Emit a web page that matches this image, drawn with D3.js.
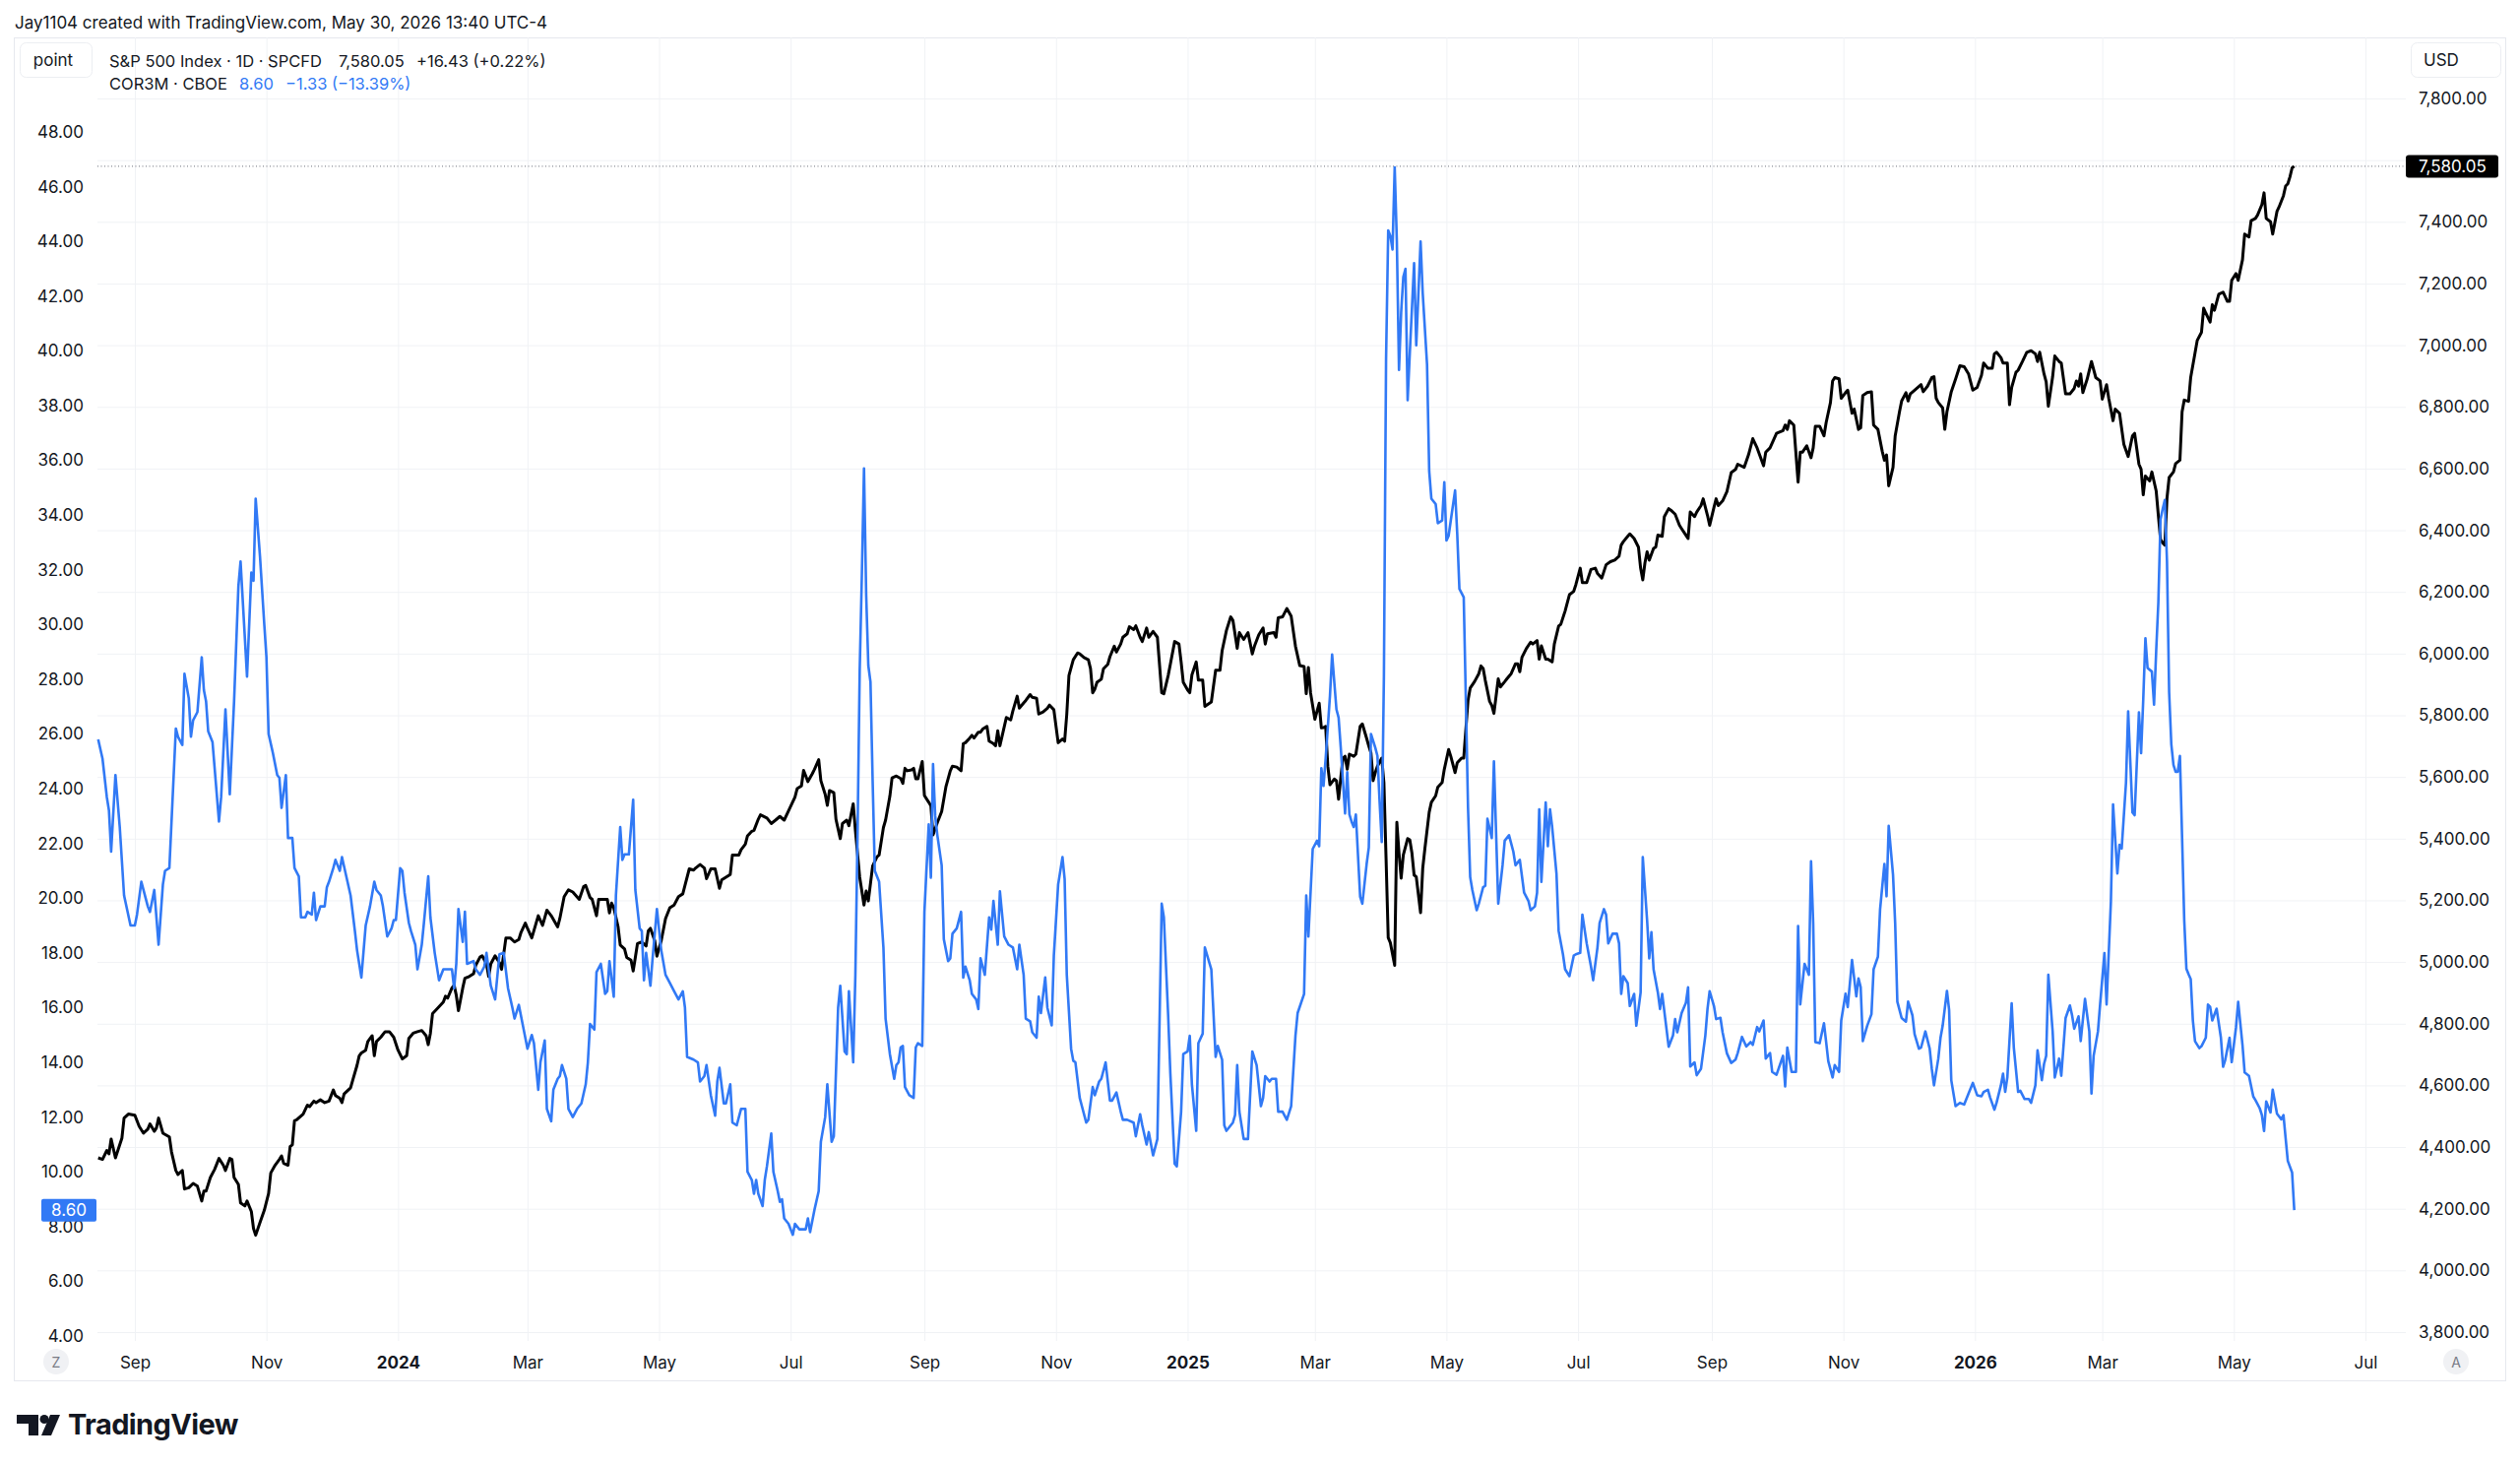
<!DOCTYPE html>
<html>
<head>
<meta charset="utf-8">
<script src="https://cdn.jsdelivr.net/npm/d3@7"></script>
<style>
  body { margin: 0; background: #fff; }
  svg text { font-family: Inter, "Noto Sans", sans-serif; fill: #131722; }
</style>
</head>
<body>
<div id="chart"></div>
<script>
// COR3M (left scale, points)
var cor3m = [
["2023-08-15",25.8],["2023-08-17",25.1],["2023-08-19",23.7],["2023-08-20",23.2],["2023-08-21",21.7],["2023-08-23",24.5],["2023-08-25",22.6],["2023-08-27",20.1],["2023-08-30",19.0],["2023-09-01",19.0],["2023-09-02",19.4],["2023-09-04",20.6],["2023-09-05",20.3],["2023-09-07",19.7],["2023-09-08",19.5],["2023-09-10",20.3],["2023-09-12",18.3],["2023-09-14",20.5],["2023-09-15",21.0],["2023-09-17",21.1],["2023-09-20",26.2],["2023-09-21",25.9],["2023-09-23",25.6],["2023-09-24",28.2],["2023-09-26",27.3],["2023-09-27",25.9],["2023-09-28",26.5],["2023-09-30",26.8],["2023-10-02",28.8],["2023-10-03",27.6],["2023-10-04",27.2],["2023-10-05",26.1],["2023-10-07",25.7],["2023-10-10",22.8],["2023-10-11",23.7],["2023-10-13",26.9],["2023-10-15",23.8],["2023-10-17",27.2],["2023-10-19",31.4],["2023-10-20",32.3],["2023-10-23",28.1],["2023-10-25",31.9],["2023-10-26",31.6],["2023-10-27",34.6],["2023-10-29",32.5],["2023-10-31",30.0],["2023-11-01",28.8],["2023-11-02",26.0],["2023-11-04",25.3],["2023-11-06",24.5],["2023-11-07",24.4],["2023-11-08",23.3],["2023-11-10",24.5],["2023-11-11",22.2],["2023-11-13",22.2],["2023-11-14",21.1],["2023-11-16",20.8],["2023-11-17",19.3],["2023-11-19",19.3],["2023-11-20",19.5],["2023-11-22",19.4],["2023-11-23",20.2],["2023-11-24",19.2],["2023-11-26",19.7],["2023-11-28",19.7],["2023-11-29",20.4],["2023-11-30",20.6],["2023-12-02",21.1],["2023-12-03",21.4],["2023-12-05",21.0],["2023-12-06",21.5],["2023-12-08",20.8],["2023-12-10",20.1],["2023-12-12",18.8],["2023-12-13",18.1],["2023-12-15",17.1],["2023-12-17",19.0],["2023-12-19",19.7],["2023-12-21",20.6],["2023-12-22",20.3],["2023-12-24",20.1],["2023-12-25",19.7],["2023-12-27",18.6],["2023-12-29",18.9],["2023-12-30",19.2],["2023-12-31",19.2],
["2024-01-02",21.1],["2024-01-03",21.0],["2024-01-04",20.2],["2024-01-06",19.1],["2024-01-07",18.8],["2024-01-09",18.3],["2024-01-10",17.4],["2024-01-12",18.3],["2024-01-13",19.1],["2024-01-15",20.8],["2024-01-16",19.3],["2024-01-18",18.0],["2024-01-20",17.0],["2024-01-22",17.4],["2024-01-26",17.4],["2024-01-27",16.7],["2024-01-28",17.6],["2024-01-29",19.6],["2024-01-31",18.4],["2024-02-01",19.5],["2024-02-02",17.6],["2024-02-05",17.7],["2024-02-06",17.4],["2024-02-08",17.2],["2024-02-10",17.5],["2024-02-11",18.0],["2024-02-13",16.8],["2024-02-15",16.3],["2024-02-17",17.95],["2024-02-19",18.0],["2024-02-21",16.7],["2024-02-23",16.0],["2024-02-24",15.6],["2024-02-26",16.1],["2024-02-28",15.3],["2024-03-01",14.5],["2024-03-03",15.0],["2024-03-04",14.7],["2024-03-06",13.0],["2024-03-07",14.0],["2024-03-09",14.8],["2024-03-10",12.3],["2024-03-12",11.85],["2024-03-13",13.0],["2024-03-15",13.4],["2024-03-16",13.5],["2024-03-17",13.9],["2024-03-19",13.4],["2024-03-20",12.3],["2024-03-22",12.0],["2024-03-24",12.3],["2024-03-26",12.5],["2024-03-28",13.2],["2024-03-29",14.0],["2024-03-30",15.4],["2024-04-01",15.2],["2024-04-02",17.3],["2024-04-04",17.6],["2024-04-06",16.5],["2024-04-07",16.6],["2024-04-08",17.7],["2024-04-10",16.4],["2024-04-11",20.1],["2024-04-13",22.6],["2024-04-14",21.4],["2024-04-15",21.6],["2024-04-17",21.6],["2024-04-19",23.6],["2024-04-20",20.3],["2024-04-22",18.9],["2024-04-23",18.8],["2024-04-24",17.0],["2024-04-25",18.0],["2024-04-27",16.8],["2024-04-28",17.8],["2024-04-30",19.6],["2024-05-02",18.1],["2024-05-04",17.2],["2024-05-06",16.9],["2024-05-08",16.6],["2024-05-10",16.3],["2024-05-12",16.6],["2024-05-13",16.0],["2024-05-14",14.2],["2024-05-17",14.1],["2024-05-19",14.0],["2024-05-20",13.3],["2024-05-22",13.5],["2024-05-23",13.9],["2024-05-25",12.8],["2024-05-27",12.05],["2024-05-28",13.3],["2024-05-29",13.8],["2024-05-31",12.5],["2024-06-01",12.5],["2024-06-03",13.2],["2024-06-04",11.8],["2024-06-06",11.7],["2024-06-08",12.3],["2024-06-10",12.3],["2024-06-11",10.0],["2024-06-13",9.7],["2024-06-14",9.2],["2024-06-15",9.7],["2024-06-16",9.2],["2024-06-18",8.75],["2024-06-19",9.7],["2024-06-20",10.2],["2024-06-22",11.4],["2024-06-23",10.0],["2024-06-25",9.3],["2024-06-26",8.9],["2024-06-27",9.0],["2024-06-28",8.3],["2024-06-30",8.1],["2024-07-02",7.7],["2024-07-03",8.1],["2024-07-05",7.9],["2024-07-07",7.9],["2024-07-08",7.9],["2024-07-09",8.3],["2024-07-10",7.8],["2024-07-12",8.6],["2024-07-14",9.3],["2024-07-15",11.1],["2024-07-17",12.0],["2024-07-18",13.2],["2024-07-20",11.1],["2024-07-21",11.3],["2024-07-23",16.0],["2024-07-24",16.8],["2024-07-26",14.4],["2024-07-27",14.3],["2024-07-28",16.6],["2024-07-30",14.0],["2024-07-31",17.2],["2024-08-01",22.3],["2024-08-02",28.3],["2024-08-03",31.8],["2024-08-04",35.7],["2024-08-05",31.1],["2024-08-06",28.5],["2024-08-07",27.9],["2024-08-08",24.3],["2024-08-09",21.0],["2024-08-10",20.8],["2024-08-11",20.6],["2024-08-13",18.2],["2024-08-14",15.6],["2024-08-16",14.3],["2024-08-18",13.4],["2024-08-19",13.9],["2024-08-20",14.0],["2024-08-21",14.55],["2024-08-22",14.6],["2024-08-23",13.1],["2024-08-25",12.8],["2024-08-27",12.7],["2024-08-28",14.55],["2024-08-29",14.7],["2024-08-31",14.6],["2024-09-01",19.5],["2024-09-03",22.7],["2024-09-04",20.75],["2024-09-05",24.9],["2024-09-06",23.0],["2024-09-07",22.3],["2024-09-09",21.2],["2024-09-10",18.5],["2024-09-12",17.7],["2024-09-13",17.8],["2024-09-14",18.7],["2024-09-16",18.9],["2024-09-18",19.5],["2024-09-19",17.1],["2024-09-20",17.5],["2024-09-22",17.0],["2024-09-23",16.5],["2024-09-25",16.3],["2024-09-26",15.95],["2024-09-27",17.8],["2024-09-29",17.2],["2024-10-01",19.3],["2024-10-02",18.85],["2024-10-03",19.9],["2024-10-05",18.3],["2024-10-06",20.25],["2024-10-08",18.6],["2024-10-10",18.3],["2024-10-12",18.2],["2024-10-14",17.4],["2024-10-15",18.3],["2024-10-17",17.2],["2024-10-18",15.6],["2024-10-20",15.5],["2024-10-21",15.1],["2024-10-23",14.9],["2024-10-24",16.4],["2024-10-25",15.8],["2024-10-27",17.1],["2024-10-28",16.0],["2024-10-30",15.35],["2024-10-31",17.9],["2024-11-02",20.5],["2024-11-04",21.5],["2024-11-05",20.7],["2024-11-06",17.2],["2024-11-08",14.5],["2024-11-09",14.06],["2024-11-10",14.0],["2024-11-12",12.7],["2024-11-13",12.4],["2024-11-15",11.8],["2024-11-16",11.9],["2024-11-18",13.1],["2024-11-19",12.8],["2024-11-21",13.3],["2024-11-22",13.4],["2024-11-24",14.0],["2024-11-26",12.6],["2024-11-27",12.6],["2024-11-29",12.9],["2024-12-01",12.2],["2024-12-02",11.9],["2024-12-04",11.9],["2024-12-07",11.8],["2024-12-08",11.3],["2024-12-10",12.1],["2024-12-11",11.7],["2024-12-13",11.0],["2024-12-14",11.45],["2024-12-16",10.6],["2024-12-18",11.2],["2024-12-20",19.8],["2024-12-21",19.3],["2024-12-23",15.7],["2024-12-24",13.6],["2024-12-26",10.3],["2024-12-27",10.2],["2024-12-29",12.2],["2024-12-30",14.3],
["2025-01-01",14.4],["2025-01-02",14.97],["2025-01-03",13.2],["2025-01-05",11.5],["2025-01-06",14.7],["2025-01-08",15.05],["2025-01-09",18.2],["2025-01-12",17.4],["2025-01-14",14.2],["2025-01-15",14.6],["2025-01-17",14.1],["2025-01-18",11.7],["2025-01-19",11.5],["2025-01-22",11.8],["2025-01-23",12.07],["2025-01-24",13.9],["2025-01-25",12.2],["2025-01-27",11.2],["2025-01-29",11.2],["2025-01-31",14.4],["2025-02-02",13.9],["2025-02-04",12.4],["2025-02-05",12.7],["2025-02-06",13.5],["2025-02-08",13.3],["2025-02-09",13.4],["2025-02-11",13.4],["2025-02-12",12.2],["2025-02-14",12.2],["2025-02-16",11.9],["2025-02-18",12.4],["2025-02-20",14.97],["2025-02-21",15.8],["2025-02-24",16.5],["2025-02-25",20.1],["2025-02-26",18.6],["2025-02-28",21.8],["2025-03-02",22.1],["2025-03-03",21.9],["2025-03-04",24.75],["2025-03-05",24.1],["2025-03-06",25.1],["2025-03-08",27.4],["2025-03-09",28.9],["2025-03-11",26.9],["2025-03-12",26.6],["2025-03-13",25.5],["2025-03-14",24.3],["2025-03-15",23.1],["2025-03-16",24.6],["2025-03-17",23.06],["2025-03-18",22.8],["2025-03-19",22.6],["2025-03-20",23.06],["2025-03-22",20.05],["2025-03-23",19.8],["2025-03-25",21.25],["2025-03-26",21.85],["2025-03-27",26.0],["2025-03-29",25.5],["2025-03-30",25.2],["2025-03-31",23.54],["2025-04-01",22.05],["2025-04-02",28.1],["2025-04-03",39.7],["2025-04-04",44.4],["2025-04-05",44.2],["2025-04-06",43.7],["2025-04-07",46.7],["2025-04-08",44.0],["2025-04-09",39.3],["2025-04-10",41.4],["2025-04-11",42.7],["2025-04-12",43.0],["2025-04-13",38.2],["2025-04-14",39.9],["2025-04-16",43.2],["2025-04-17",40.2],["2025-04-19",44.0],["2025-04-20",42.1],["2025-04-22",39.5],["2025-04-23",35.6],["2025-04-24",34.6],["2025-04-26",34.4],["2025-04-27",33.7],["2025-04-29",33.8],["2025-04-30",35.2],["2025-05-01",33.07],["2025-05-02",33.24],["2025-05-03",33.8],["2025-05-05",34.9],["2025-05-06",33.3],["2025-05-07",31.3],["2025-05-09",31.0],["2025-05-10",27.2],["2025-05-11",23.3],["2025-05-12",20.77],["2025-05-13",20.3],["2025-05-15",19.56],["2025-05-16",19.8],["2025-05-18",20.4],["2025-05-19",20.45],["2025-05-20",22.9],["2025-05-22",22.2],["2025-05-23",25.0],["2025-05-25",19.8],["2025-05-27",21.2],["2025-05-28",22.1],["2025-05-30",22.3],["2025-06-01",21.7],["2025-06-02",21.2],["2025-06-04",21.4],["2025-06-06",20.2],["2025-06-08",19.9],["2025-06-09",19.56],["2025-06-11",19.7],["2025-06-12",20.2],["2025-06-13",23.25],["2025-06-14",20.6],["2025-06-16",23.5],["2025-06-17",21.9],["2025-06-18",23.25],["2025-06-19",22.6],["2025-06-21",20.9],["2025-06-22",18.8],["2025-06-24",17.95],["2025-06-25",17.4],["2025-06-27",17.15],["2025-06-29",17.9],["2025-06-30",17.95],["2025-07-02",18.0],["2025-07-03",19.4],["2025-07-05",18.35],["2025-07-07",17.5],["2025-07-08",17.0],["2025-07-10",18.2],["2025-07-11",19.1],["2025-07-13",19.6],["2025-07-14",19.4],["2025-07-15",18.35],["2025-07-17",18.7],["2025-07-19",18.7],["2025-07-20",18.35],["2025-07-21",16.5],["2025-07-22",17.15],["2025-07-24",16.9],["2025-07-25",16.06],["2025-07-27",16.5],["2025-07-28",15.34],["2025-07-30",16.55],["2025-07-31",21.5],["2025-08-02",19.2],["2025-08-03",17.8],["2025-08-04",18.76],["2025-08-05",17.4],["2025-08-07",16.55],["2025-08-08",15.95],["2025-08-09",16.5],["2025-08-11",15.22],["2025-08-12",14.57],["2025-08-14",14.98],["2025-08-15",15.58],["2025-08-16",15.1],["2025-08-18",15.8],["2025-08-20",16.18],["2025-08-21",16.74],["2025-08-22",13.85],["2025-08-24",14.0],["2025-08-25",13.53],["2025-08-27",13.77],["2025-08-29",14.98],["2025-08-30",15.95],["2025-08-31",16.6],["2025-09-02",16.06],["2025-09-03",15.58],["2025-09-05",15.63],["2025-09-06",15.1],["2025-09-08",14.33],["2025-09-10",13.98],["2025-09-12",14.1],["2025-09-13",14.34],["2025-09-15",14.93],["2025-09-17",14.58],["2025-09-19",14.74],["2025-09-20",14.64],["2025-09-22",15.29],["2025-09-23",15.13],["2025-09-25",15.53],["2025-09-26",14.14],["2025-09-28",14.34],["2025-09-29",13.65],["2025-10-01",13.55],["2025-10-04",14.24],["2025-10-05",13.12],["2025-10-06",14.54],["2025-10-08",13.65],["2025-10-10",13.65],["2025-10-11",18.98],["2025-10-12",16.12],["2025-10-14",17.6],["2025-10-16",17.2],["2025-10-17",21.35],["2025-10-18",19.08],["2025-10-19",14.74],["2025-10-21",14.7],["2025-10-23",15.43],["2025-10-24",14.74],["2025-10-25",14.04],["2025-10-27",13.45],["2025-10-28",13.9],["2025-10-30",13.65],["2025-10-31",15.53],["2025-11-02",16.51],["2025-11-03",16.02],["2025-11-05",17.74],["2025-11-07",16.41],["2025-11-08",17.07],["2025-11-09",16.75],["2025-11-10",14.78],["2025-11-12",15.33],["2025-11-14",15.76],["2025-11-15",17.4],["2025-11-17",17.86],["2025-11-18",19.58],["2025-11-20",21.25],["2025-11-21",20.07],["2025-11-22",22.64],["2025-11-24",20.86],["2025-11-25",19.08],["2025-11-26",16.22],["2025-11-28",15.62],["2025-11-30",15.49],["2025-12-01",16.22],["2025-12-03",15.72],["2025-12-04",15.03],["2025-12-06",14.5],["2025-12-07",14.54],["2025-12-09",15.13],["2025-12-11",14.5],["2025-12-12",13.75],["2025-12-13",13.16],["2025-12-15",14.14],["2025-12-16",14.89],["2025-12-17",15.33],["2025-12-19",16.61],["2025-12-20",15.92],["2025-12-21",13.35],["2025-12-23",12.4],["2025-12-25",12.52],["2025-12-27",12.46],["2025-12-29",12.86],["2025-12-31",13.25],
["2026-01-02",12.8],["2026-01-04",12.76],["2026-01-05",12.92],["2026-01-07",13.0],["2026-01-08",12.72],["2026-01-10",12.27],["2026-01-11",12.52],["2026-01-13",13.16],["2026-01-14",13.59],["2026-01-15",12.92],["2026-01-16",13.45],["2026-01-18",16.16],["2026-01-19",14.54],["2026-01-21",12.92],["2026-01-22",12.96],["2026-01-24",12.66],["2026-01-26",12.66],["2026-01-27",12.52],["2026-01-29",13.16],["2026-01-30",14.44],["2026-02-01",13.35],["2026-02-02",13.94],["2026-02-03",14.24],["2026-02-04",17.2],["2026-02-06",15.13],["2026-02-07",13.45],["2026-02-09",14.14],["2026-02-10",13.51],["2026-02-12",15.62],["2026-02-14",16.08],["2026-02-15",15.72],["2026-02-16",15.23],["2026-02-18",15.68],["2026-02-19",14.78],["2026-02-21",16.32],["2026-02-23",15.13],["2026-02-24",12.86],["2026-02-25",14.24],["2026-02-27",15.13],["2026-02-28",16.12],["2026-03-02",17.99],["2026-03-03",16.12],["2026-03-05",19.87],["2026-03-06",23.43],["2026-03-08",20.9],["2026-03-09",21.95],["2026-03-10",21.81],["2026-03-12",24.22],["2026-03-13",26.83],["2026-03-15",23.13],["2026-03-16",23.03],["2026-03-18",26.79],["2026-03-19",25.3],["2026-03-20",27.27],["2026-03-21",29.5],["2026-03-22",28.41],["2026-03-24",28.28],["2026-03-25",27.07],["2026-03-26",29.04],["2026-03-27",30.81],["2026-03-28",33.84],["2026-03-29",34.22],["2026-03-30",34.55],["2026-03-31",32.32],["2026-04-01",27.53],["2026-04-02",25.63],["2026-04-03",24.87],["2026-04-04",24.62],["2026-04-05",24.62],["2026-04-06",25.2],["2026-04-07",22.22],["2026-04-08",19.19],["2026-04-09",17.42],["2026-04-10",17.22],["2026-04-11",17.04],["2026-04-12",15.53],["2026-04-13",14.77],["2026-04-15",14.52],["2026-04-16",14.59],["2026-04-18",14.9],["2026-04-19",16.11],["2026-04-20",16.03],["2026-04-21",15.53],["2026-04-23",15.96],["2026-04-25",14.9],["2026-04-26",13.84],["2026-04-27",14.09],["2026-04-29",14.9],["2026-04-30",14.01],["2026-05-02",15.28],["2026-05-03",16.21],["2026-05-05",14.64],["2026-05-06",13.63],["2026-05-08",13.51],["2026-05-10",12.75],["2026-05-11",12.62],["2026-05-13",12.32],["2026-05-14",12.07],["2026-05-15",11.49],["2026-05-16",12.57],["2026-05-18",12.17],["2026-05-19",13.0],["2026-05-21",12.12],["2026-05-23",11.92],["2026-05-24",12.07],["2026-05-25",11.23],["2026-05-26",10.4],["2026-05-28",9.97],["2026-05-29",8.60]
];

// S&P 500 (right scale, USD)
var spx = [
["2023-08-15",4365],["2023-08-17",4360],["2023-08-19",4389],["2023-08-20",4378],["2023-08-21",4426],["2023-08-23",4365],["2023-08-26",4429],["2023-08-27",4494],["2023-08-29",4507],["2023-09-01",4503],["2023-09-03",4467],["2023-09-05",4445],["2023-09-07",4458],["2023-09-08",4475],["2023-09-10",4451],["2023-09-11",4462],["2023-09-12",4494],["2023-09-14",4445],["2023-09-17",4433],["2023-09-18",4384],["2023-09-20",4324],["2023-09-21",4311],["2023-09-23",4324],["2023-09-24",4264],["2023-09-26",4268],["2023-09-28",4282],["2023-09-30",4273],["2023-10-02",4225],["2023-10-03",4257],["2023-10-04",4257],["2023-10-06",4301],["2023-10-08",4328],["2023-10-10",4363],["2023-10-12",4341],["2023-10-13",4324],["2023-10-15",4363],["2023-10-16",4360],["2023-10-17",4301],["2023-10-19",4279],["2023-10-20",4219],["2023-10-22",4209],["2023-10-23",4225],["2023-10-25",4191],["2023-10-26",4136],["2023-10-27",4114],["2023-10-29",4155],["2023-10-31",4195],["2023-11-02",4250],["2023-11-03",4316],["2023-11-05",4341],["2023-11-07",4360],["2023-11-08",4371],["2023-11-09",4347],["2023-11-11",4341],["2023-11-12",4402],["2023-11-13",4407],["2023-11-14",4485],["2023-11-15",4488],["2023-11-18",4507],["2023-11-20",4536],["2023-11-21",4531],["2023-11-23",4549],["2023-11-24",4544],["2023-11-26",4553],["2023-11-28",4544],["2023-11-30",4549],["2023-12-02",4585],["2023-12-03",4567],["2023-12-05",4558],["2023-12-06",4544],["2023-12-07",4572],["2023-12-10",4592],["2023-12-11",4617],["2023-12-13",4665],["2023-12-14",4696],["2023-12-15",4705],["2023-12-17",4714],["2023-12-18",4742],["2023-12-20",4761],["2023-12-21",4696],["2023-12-22",4742],["2023-12-24",4756],["2023-12-26",4774],["2023-12-28",4774],["2023-12-30",4756],
["2024-01-01",4714],["2024-01-03",4686],["2024-01-05",4696],["2024-01-06",4752],["2024-01-08",4769],["2024-01-10",4774],["2024-01-12",4778],["2024-01-14",4761],["2024-01-15",4732],["2024-01-16",4769],["2024-01-17",4833],["2024-01-20",4855],["2024-01-22",4870],["2024-01-23",4889],["2024-01-24",4883],["2024-01-26",4916],["2024-01-27",4925],["2024-01-28",4892],["2024-01-29",4842],["2024-01-31",4916],["2024-02-01",4947],["2024-02-03",4953],["2024-02-05",4962],["2024-02-06",4989],["2024-02-08",5016],["2024-02-09",5020],["2024-02-11",4994],["2024-02-12",4953],["2024-02-13",4994],["2024-02-15",5020],["2024-02-17",4998],["2024-02-18",4976],["2024-02-20",5078],["2024-02-22",5078],["2024-02-24",5065],["2024-02-26",5073],["2024-02-27",5096],["2024-02-29",5126],["2024-03-01",5109],["2024-03-03",5078],["2024-03-06",5150],["2024-03-08",5119],["2024-03-10",5168],["2024-03-12",5150],["2024-03-15",5114],["2024-03-16",5141],["2024-03-18",5212],["2024-03-20",5234],["2024-03-22",5227],["2024-03-25",5203],["2024-03-27",5244],["2024-03-28",5248],["2024-03-30",5209],["2024-03-31",5203],["2024-04-02",5150],["2024-04-03",5203],["2024-04-05",5203],["2024-04-07",5203],["2024-04-08",5159],["2024-04-09",5191],["2024-04-10",5176],["2024-04-12",5114],["2024-04-13",5055],["2024-04-15",5042],["2024-04-16",5015],["2024-04-18",5006],["2024-04-19",4971],["2024-04-20",5015],["2024-04-21",5060],["2024-04-23",5065],["2024-04-25",5052],["2024-04-26",5101],["2024-04-27",5109],["2024-04-29",5069],["2024-04-30",5019],["2024-05-02",5069],["2024-05-04",5141],["2024-05-06",5176],["2024-05-08",5185],["2024-05-10",5212],["2024-05-12",5221],["2024-05-13",5248],["2024-05-15",5302],["2024-05-17",5298],["2024-05-18",5305],["2024-05-20",5316],["2024-05-22",5305],["2024-05-23",5270],["2024-05-25",5302],["2024-05-27",5302],["2024-05-29",5239],["2024-05-30",5266],["2024-06-01",5275],["2024-06-03",5284],["2024-06-04",5347],["2024-06-07",5347],["2024-06-08",5364],["2024-06-10",5382],["2024-06-11",5409],["2024-06-13",5424],["2024-06-14",5427],["2024-06-16",5463],["2024-06-17",5477],["2024-06-20",5467],["2024-06-22",5449],["2024-06-24",5460],["2024-06-26",5472],["2024-06-28",5460],["2024-06-30",5490],["2024-07-03",5535],["2024-07-04",5562],["2024-07-06",5571],["2024-07-07",5621],["2024-07-09",5585],["2024-07-11",5610],["2024-07-12",5624],["2024-07-14",5656],["2024-07-15",5588],["2024-07-17",5544],["2024-07-18",5508],["2024-07-19",5556],["2024-07-21",5549],["2024-07-22",5463],["2024-07-24",5400],["2024-07-25",5449],["2024-07-27",5460],["2024-07-28",5442],["2024-07-30",5513],["2024-07-31",5427],["2024-08-02",5275],["2024-08-04",5185],["2024-08-05",5230],["2024-08-06",5198],["2024-08-08",5311],["2024-08-10",5341],["2024-08-11",5347],["2024-08-13",5436],["2024-08-14",5460],["2024-08-16",5538],["2024-08-17",5597],["2024-08-19",5603],["2024-08-21",5595],["2024-08-22",5579],["2024-08-23",5628],["2024-08-24",5620],["2024-08-26",5623],["2024-08-27",5628],["2024-08-28",5594],["2024-08-29",5594],["2024-08-31",5650],["2024-09-01",5540],["2024-09-03",5518],["2024-09-04",5506],["2024-09-05",5412],["2024-09-07",5452],["2024-09-09",5488],["2024-09-11",5569],["2024-09-13",5620],["2024-09-14",5635],["2024-09-16",5632],["2024-09-18",5620],["2024-09-19",5708],["2024-09-20",5711],["2024-09-22",5726],["2024-09-23",5735],["2024-09-24",5726],["2024-09-26",5745],["2024-09-27",5745],["2024-09-28",5755],["2024-09-30",5764],["2024-10-01",5716],["2024-10-03",5708],["2024-10-04",5701],["2024-10-05",5750],["2024-10-06",5701],["2024-10-09",5793],["2024-10-11",5785],["2024-10-12",5814],["2024-10-14",5862],["2024-10-15",5823],["2024-10-17",5840],["2024-10-18",5848],["2024-10-20",5867],["2024-10-21",5858],["2024-10-23",5855],["2024-10-24",5804],["2024-10-26",5811],["2024-10-28",5823],["2024-10-29",5833],["2024-10-31",5818],["2024-11-02",5711],["2024-11-04",5723],["2024-11-05",5716],["2024-11-06",5804],["2024-11-07",5929],["2024-11-09",5980],["2024-11-11",6002],["2024-11-12",5999],["2024-11-14",5987],["2024-11-16",5980],["2024-11-17",5951],["2024-11-18",5873],["2024-11-19",5885],["2024-11-20",5907],["2024-11-22",5917],["2024-11-23",5951],["2024-11-25",5965],["2024-11-26",5990],["2024-11-28",6024],["2024-11-29",6005],["2024-12-01",6031],["2024-12-02",6053],["2024-12-04",6064],["2024-12-05",6087],["2024-12-07",6078],["2024-12-08",6090],["2024-12-10",6053],["2024-12-11",6039],["2024-12-13",6083],["2024-12-14",6053],["2024-12-16",6072],["2024-12-18",6053],["2024-12-20",5873],["2024-12-21",5870],["2024-12-23",5929],["2024-12-24",5965],["2024-12-26",6039],["2024-12-28",6031],["2024-12-29",5973],["2024-12-30",5907],
["2025-01-01",5882],["2025-01-02",5873],["2025-01-03",5931],["2025-01-05",5973],["2025-01-06",5914],["2025-01-08",5914],["2025-01-09",5829],["2025-01-12",5843],["2025-01-14",5946],["2025-01-16",5946],["2025-01-17",6009],["2025-01-19",6075],["2025-01-21",6119],["2025-01-22",6108],["2025-01-24",6017],["2025-01-25",6068],["2025-01-27",6046],["2025-01-29",6068],["2025-01-31",5999],["2025-02-01",6024],["2025-02-03",6061],["2025-02-05",6083],["2025-02-06",6031],["2025-02-07",6064],["2025-02-10",6068],["2025-02-11",6053],["2025-02-12",6116],["2025-02-14",6119],["2025-02-16",6146],["2025-02-18",6122],["2025-02-20",6024],["2025-02-22",5961],["2025-02-24",5958],["2025-02-25",5870],["2025-02-26",5955],["2025-02-27",5873],["2025-03-01",5787],["2025-03-03",5839],["2025-03-04",5759],["2025-03-05",5760],["2025-03-06",5764],["2025-03-07",5635],["2025-03-08",5575],["2025-03-10",5593],["2025-03-11",5588],["2025-03-12",5528],["2025-03-13",5597],["2025-03-14",5661],["2025-03-15",5667],["2025-03-16",5625],["2025-03-17",5674],["2025-03-19",5667],["2025-03-20",5674],["2025-03-22",5764],["2025-03-23",5772],["2025-03-25",5725],["2025-03-26",5700],["2025-03-27",5678],["2025-03-28",5588],["2025-03-29",5614],["2025-03-30",5635],["2025-04-01",5661],["2025-04-02",5582],["2025-04-03",5336],["2025-04-04",5079],["2025-04-05",5062],["2025-04-07",4989],["2025-04-08",5453],["2025-04-09",5353],["2025-04-10",5272],["2025-04-11",5347],["2025-04-13",5400],["2025-04-14",5396],["2025-04-15",5353],["2025-04-16",5282],["2025-04-17",5276],["2025-04-19",5160],["2025-04-20",5304],["2025-04-21",5368],["2025-04-23",5486],["2025-04-24",5518],["2025-04-26",5539],["2025-04-27",5567],["2025-04-29",5582],["2025-04-30",5625],["2025-05-02",5689],["2025-05-03",5667],["2025-05-05",5614],["2025-05-06",5646],["2025-05-08",5661],["2025-05-09",5661],["2025-05-11",5849],["2025-05-12",5888],["2025-05-14",5909],["2025-05-16",5935],["2025-05-17",5960],["2025-05-18",5952],["2025-05-19",5913],["2025-05-21",5845],["2025-05-22",5832],["2025-05-23",5806],["2025-05-25",5918],["2025-05-26",5892],["2025-05-28",5909],["2025-05-29",5918],["2025-05-31",5935],["2025-06-02",5967],["2025-06-03",5967],["2025-06-04",5941],["2025-06-05",5988],["2025-06-07",6016],["2025-06-09",6037],["2025-06-10",6031],["2025-06-12",6042],["2025-06-13",5982],["2025-06-14",6025],["2025-06-16",5982],["2025-06-17",5982],["2025-06-19",5973],["2025-06-20",6031],["2025-06-22",6089],["2025-06-23",6095],["2025-06-25",6138],["2025-06-27",6191],["2025-06-29",6202],["2025-06-30",6224],["2025-07-02",6277],["2025-07-03",6230],["2025-07-05",6230],["2025-07-07",6273],["2025-07-09",6277],["2025-07-10",6260],["2025-07-12",6245],["2025-07-14",6288],["2025-07-16",6298],["2025-07-18",6303],["2025-07-20",6316],["2025-07-21",6352],["2025-07-22",6363],["2025-07-24",6380],["2025-07-25",6388],["2025-07-27",6373],["2025-07-29",6345],["2025-07-30",6277],["2025-07-31",6239],["2025-08-01",6294],["2025-08-02",6330],["2025-08-03",6303],["2025-08-05",6341],["2025-08-06",6345],["2025-08-07",6384],["2025-08-09",6380],["2025-08-10",6444],["2025-08-12",6470],["2025-08-13",6465],["2025-08-15",6452],["2025-08-17",6416],["2025-08-18",6405],["2025-08-20",6384],["2025-08-21",6373],["2025-08-22",6459],["2025-08-24",6444],["2025-08-25",6459],["2025-08-27",6480],["2025-08-28",6502],["2025-08-30",6448],["2025-08-31",6416],["2025-09-02",6474],["2025-09-03",6502],["2025-09-04",6480],["2025-09-06",6495],["2025-09-08",6525],["2025-09-10",6587],["2025-09-12",6597],["2025-09-13",6614],["2025-09-16",6604],["2025-09-18",6644],["2025-09-20",6697],["2025-09-22",6667],["2025-09-25",6609],["2025-09-26",6653],["2025-09-28",6667],["2025-10-01",6714],["2025-10-04",6723],["2025-10-05",6741],["2025-10-06",6727],["2025-10-07",6755],["2025-10-09",6741],["2025-10-11",6556],["2025-10-12",6653],["2025-10-13",6653],["2025-10-15",6674],["2025-10-17",6635],["2025-10-18",6667],["2025-10-19",6737],["2025-10-21",6737],["2025-10-23",6706],["2025-10-24",6749],["2025-10-26",6814],["2025-10-27",6884],["2025-10-28",6895],["2025-10-30",6891],["2025-10-31",6828],["2025-11-02",6846],["2025-11-03",6854],["2025-11-05",6779],["2025-11-06",6793],["2025-11-08",6727],["2025-11-09",6732],["2025-11-10",6837],["2025-11-12",6846],["2025-11-14",6849],["2025-11-15",6741],["2025-11-17",6727],["2025-11-19",6656],["2025-11-20",6627],["2025-11-21",6644],["2025-11-22",6544],["2025-11-24",6604],["2025-11-25",6706],["2025-11-27",6784],["2025-11-28",6819],["2025-11-30",6846],["2025-12-01",6819],["2025-12-02",6842],["2025-12-04",6854],["2025-12-07",6872],["2025-12-08",6849],["2025-12-10",6867],["2025-12-12",6895],["2025-12-13",6898],["2025-12-14",6828],["2025-12-15",6814],["2025-12-17",6797],["2025-12-18",6727],["2025-12-19",6784],["2025-12-21",6849],["2025-12-23",6890],["2025-12-25",6933],["2025-12-27",6930],["2025-12-29",6907],["2025-12-31",6854],
["2026-01-02",6863],["2026-01-04",6902],["2026-01-05",6942],["2026-01-07",6925],["2026-01-09",6925],["2026-01-10",6972],["2026-01-11",6977],["2026-01-13",6960],["2026-01-14",6942],["2026-01-16",6942],["2026-01-17",6807],["2026-01-18",6863],["2026-01-20",6912],["2026-01-21",6919],["2026-01-23",6947],["2026-01-25",6977],["2026-01-27",6982],["2026-01-29",6972],["2026-01-30",6947],["2026-01-31",6977],["2026-02-02",6907],["2026-02-03",6881],["2026-02-04",6802],["2026-02-06",6898],["2026-02-07",6965],["2026-02-09",6947],["2026-02-10",6942],["2026-02-12",6842],["2026-02-14",6842],["2026-02-16",6860],["2026-02-17",6884],["2026-02-18",6867],["2026-02-19",6907],["2026-02-20",6846],["2026-02-22",6890],["2026-02-24",6947],["2026-02-26",6895],["2026-02-28",6884],["2026-03-01",6825],["2026-03-03",6872],["2026-03-04",6828],["2026-03-06",6755],["2026-03-07",6793],["2026-03-09",6779],["2026-03-11",6679],["2026-03-13",6639],["2026-03-15",6706],["2026-03-16",6714],["2026-03-18",6614],["2026-03-19",6598],["2026-03-20",6515],["2026-03-21",6576],["2026-03-23",6560],["2026-03-24",6589],["2026-03-26",6527],["2026-03-27",6448],["2026-03-28",6370],["2026-03-29",6359],["2026-03-30",6352],["2026-03-31",6504],["2026-04-01",6571],["2026-04-03",6589],["2026-04-04",6616],["2026-04-06",6627],["2026-04-07",6784],["2026-04-08",6822],["2026-04-10",6818],["2026-04-11",6896],["2026-04-13",6975],["2026-04-14",7015],["2026-04-16",7042],["2026-04-17",7120],["2026-04-18",7104],["2026-04-20",7075],["2026-04-21",7131],["2026-04-22",7113],["2026-04-24",7165],["2026-04-26",7172],["2026-04-28",7142],["2026-04-29",7142],["2026-04-30",7210],["2026-05-02",7232],["2026-05-03",7210],["2026-05-05",7277],["2026-05-06",7360],["2026-05-08",7351],["2026-05-09",7404],["2026-05-11",7411],["2026-05-12",7422],["2026-05-14",7456],["2026-05-15",7494],["2026-05-16",7411],["2026-05-18",7400],["2026-05-19",7360],["2026-05-21",7434],["2026-05-22",7449],["2026-05-24",7485],["2026-05-25",7516],["2026-05-26",7523],["2026-05-27",7546],["2026-05-28",7575],["2026-05-29",7580.05]
];

var leftTicks = [4, 6, 8, 10, 12, 14, 16, 18, 20, 22, 24, 26, 28, 30, 32, 34, 36, 38, 40, 42, 44, 46, 48];
var rightTicks = [3800, 4000, 4200, 4400, 4600, 4800, 5000, 5200, 5400, 5600, 5800, 6000, 6200, 6400, 6600, 6800, 7000, 7200, 7400, 7600, 7800];
var timeTicks = [
  ["2023-09-01", "Sep"], ["2023-11-01", "Nov"], ["2024-01-01", "2024"], ["2024-03-01", "Mar"],
  ["2024-05-01", "May"], ["2024-07-01", "Jul"], ["2024-09-01", "Sep"], ["2024-11-01", "Nov"],
  ["2025-01-01", "2025"], ["2025-03-01", "Mar"], ["2025-05-01", "May"], ["2025-07-01", "Jul"],
  ["2025-09-01", "Sep"], ["2025-11-01", "Nov"], ["2026-01-01", "2026"], ["2026-03-01", "Mar"],
  ["2026-05-01", "May"], ["2026-07-01", "Jul"]
];

var blue = "#3179f5";
var parse = d3.timeParse("%Y-%m-%d");
var corData = cor3m.map(function(d) { return {date: parse(d[0]), v: d[1]}; });
var spxData = spx.map(function(d) { return {date: parse(d[0]), v: d[1]}; });
var tickDates = timeTicks.map(function(d) { return parse(d[0]); });
var tickLabel = {};
timeTicks.forEach(function(d) { tickLabel[+parse(d[0])] = d[1]; });
var lastSpx = spxData[spxData.length - 1];
var lastCor = corData[corData.length - 1];

// plot frame
var plot = {left: 99, right: 2444, top: 38, bottom: 1362};

var svg = d3.select("#chart")
    .append("svg")
    .attr("width", 2560)
    .attr("height", 1488);

var x = d3.scaleTime()
    .domain([parse("2023-09-01"), parse("2026-07-01")])
    .range([137, 2403]);
var yL = d3.scaleLinear().domain([4, 48]).range([1357, 134]);
var yR = d3.scaleLinear().domain([3800, 7800]).range([1353, 100]);

// header
svg.append("text")
    .attr("x", 15).attr("y", 23)
    .attr("dominant-baseline", "central")
    .style("font-size", "17px")
    .text("Jay1104 created with TradingView.com, May 30, 2026 13:40 UTC-4");

// panel border
svg.append("rect")
    .attr("x", 14.5).attr("y", 38.5)
    .attr("width", 2531).attr("height", 1364)
    .attr("fill", "none")
    .attr("stroke", "#e6e8ee");

// grid lines
var gridH = svg.append("g")
    .attr("transform", "translate(" + plot.right + ",0)")
    .call(d3.axisLeft(yR).tickValues(rightTicks).tickSize(plot.right - plot.left).tickFormat(""));
var gridV = svg.append("g")
    .attr("transform", "translate(0," + plot.bottom + ")")
    .call(d3.axisTop(x).tickValues(tickDates).tickSize(plot.bottom - plot.top).tickFormat(""));
[gridH, gridV].forEach(function(g) {
    g.select(".domain").remove();
    g.selectAll("line").attr("stroke", "#f0f2f5").attr("stroke-width", 1);
});

// left axis (COR3M)
var axL = svg.append("g")
    .attr("transform", "translate(85,0)")
    .call(d3.axisLeft(yL).tickValues(leftTicks).tickSize(0).tickPadding(0).tickFormat(d3.format(".2f")));
// right axis (USD); the label under the last-price tag is hidden, as on the screen
var axR = svg.append("g")
    .attr("transform", "translate(2457,0)")
    .call(d3.axisRight(yR)
        .tickValues(rightTicks.filter(function(t) { return Math.abs(yR(t) - yR(lastSpx.v)) > 20; }))
        .tickSize(0).tickPadding(0).tickFormat(d3.format(",.2f")));
// time axis
var axB = svg.append("g")
    .attr("transform", "translate(0,1377.5)")
    .call(d3.axisBottom(x).tickValues(tickDates).tickSize(0).tickPadding(0)
        .tickFormat(function(d) { return tickLabel[+d]; }));
[axL, axR, axB].forEach(function(g) {
    g.select(".domain").remove();
    g.selectAll("text")
        .style("font-size", "17px")
        .style("font-family", "Inter, 'Noto Sans', sans-serif")
        .attr("fill", "#131722");
});
axB.selectAll("text")
    .style("font-weight", function(d) { return /^\d{4}$/.test(tickLabel[+d]) ? "700" : "400"; });

// last price dotted line
svg.append("line")
    .attr("x1", plot.left).attr("x2", plot.right)
    .attr("y1", yR(lastSpx.v)).attr("y2", yR(lastSpx.v))
    .attr("stroke", "#6a6d78")
    .attr("stroke-width", 1)
    .attr("stroke-dasharray", "1,2.5");

// series
var lineR = d3.line().x(function(d) { return x(d.date); }).y(function(d) { return yR(d.v); });
var lineL = d3.line().x(function(d) { return x(d.date); }).y(function(d) { return yL(d.v); });

svg.append("path")
    .datum(spxData)
    .attr("d", lineR)
    .attr("fill", "none")
    .attr("stroke", "#000")
    .attr("stroke-width", 3)
    .attr("stroke-linejoin", "round");

svg.append("path")
    .datum(corData)
    .attr("d", lineL)
    .attr("fill", "none")
    .attr("stroke", blue)
    .attr("stroke-width", 2.6)
    .attr("stroke-linejoin", "round");

// price labels on the scales
svg.append("rect")
    .attr("x", 2444).attr("y", yR(lastSpx.v) - 11.5)
    .attr("width", 94).attr("height", 23).attr("rx", 3)
    .attr("fill", "#000");
svg.append("text")
    .attr("x", 2457).attr("y", yR(lastSpx.v))
    .attr("dominant-baseline", "central")
    .style("font-size", "17px")
    .style("fill", "#fff")
    .text(d3.format(",.2f")(lastSpx.v));

svg.append("rect")
    .attr("x", 42).attr("y", yL(lastCor.v) - 11.5)
    .attr("width", 56).attr("height", 23).attr("rx", 2)
    .attr("fill", blue);
svg.append("text")
    .attr("x", 70).attr("y", yL(lastCor.v))
    .attr("text-anchor", "middle")
    .attr("dominant-baseline", "central")
    .style("font-size", "17px")
    .style("fill", "#fff")
    .text(d3.format(".2f")(lastCor.v));

// scale unit boxes
function unitBox(x0, w, label, tx, anchor) {
    svg.append("rect")
        .attr("x", x0).attr("y", 43.5)
        .attr("width", w).attr("height", 35).attr("rx", 6)
        .attr("fill", "#fff")
        .attr("stroke", "#eceef2");
    svg.append("text")
        .attr("x", tx).attr("y", 61)
        .attr("text-anchor", anchor)
        .attr("dominant-baseline", "central")
        .style("font-size", "17px")
        .text(label);
}
unitBox(20.5, 73, "point", 54, "middle");
unitBox(2449.5, 91, "USD", 2462, "start");

// legend
var leg1 = svg.append("g").style("font-size", "16.5px");
leg1.append("text").attr("x", 111).attr("y", 62).attr("dominant-baseline", "central").text("S&P 500 Index · 1D · SPCFD");
leg1.append("text").attr("x", 344).attr("y", 62).attr("dominant-baseline", "central").text("7,580.05");
leg1.append("text").attr("x", 423).attr("y", 62).attr("dominant-baseline", "central").text("+16.43 (+0.22%)");
leg1.append("text").attr("x", 111).attr("y", 85).attr("dominant-baseline", "central").text("COR3M · CBOE");
leg1.append("text").attr("x", 243).attr("y", 85).attr("dominant-baseline", "central").style("fill", blue).text("8.60");
leg1.append("text").attr("x", 290).attr("y", 85).attr("dominant-baseline", "central").style("fill", blue).text("\u22121.33 (\u221213.39%)");

// corner buttons
[[57, "Z"], [2495, "A"]].forEach(function(b) {
    svg.append("circle").attr("cx", b[0]).attr("cy", 1383).attr("r", 13).attr("fill", "#f0f1f4");
    svg.append("text")
        .attr("x", b[0]).attr("y", 1383)
        .attr("text-anchor", "middle")
        .attr("dominant-baseline", "central")
        .style("font-size", "14px")
        .style("fill", "#787b86")
        .text(b[1]);
});

// TradingView logo
var logo = svg.append("g").attr("fill", "#131722");
logo.append("path").attr("d", "M17,1437 H39 V1458 H29 V1446 H17 Z");
logo.append("circle").attr("cx", 45).attr("cy", 1441.5).attr("r", 4.5);
logo.append("path").attr("d", "M51,1437 H61 L52,1458 H42 Z");
svg.append("text")
    .attr("x", 69).attr("y", 1457)
    .style("font-size", "29px")
    .style("font-weight", "700")
    .style("letter-spacing", "-0.6px")
    .text("TradingView");
</script>
</body>
</html>
